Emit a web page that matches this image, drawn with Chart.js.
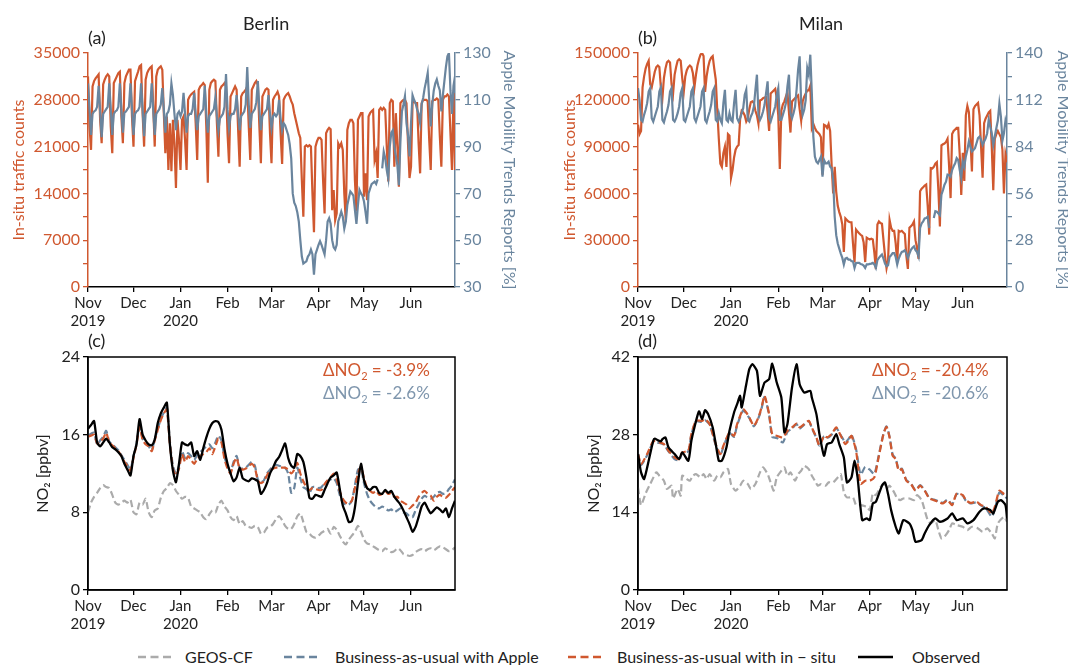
<!DOCTYPE html>
<html><head><meta charset="utf-8">
<script src="https://cdn.jsdelivr.net/npm/chart.js@4.4.0/dist/chart.umd.min.js"></script>
<style>
html,body{margin:0;padding:0;background:#fff;}
body{width:1068px;height:665px;position:relative;overflow:hidden;font-family:Lato,'DejaVu Sans',sans-serif;color:#222;}
canvas{position:absolute;}
.t{position:absolute;white-space:nowrap;line-height:1;}
.lg{position:absolute;top:648px;font-size:16px;line-height:18px;white-space:nowrap;color:#222;}
</style></head><body>
<canvas id="ca" width="534" height="335" style="left:0;top:0"></canvas>
<canvas id="cb" width="540" height="335" style="left:534px;top:0"></canvas>
<canvas id="cc" width="534" height="300" style="left:0;top:335px"></canvas>
<canvas id="cd" width="534" height="300" style="left:534px;top:335px"></canvas>

<div class="t" style="left:243px;top:14px;font-size:18px">Berlin</div>
<div class="t" style="left:799px;top:14px;font-size:18px">Milan</div>
<div class="t" style="left:88px;top:28px;font-size:18px">(a)</div>
<div class="t" style="left:638px;top:28px;font-size:18px">(b)</div>
<div class="t" style="left:88px;top:331px;font-size:18px">(c)</div>
<div class="t" style="left:638px;top:331px;font-size:18px">(d)</div>
<div class="t" style="left:323px;top:361px;font-size:17px;color:#d0582f">ΔNO<sub style="font-size:11px">2</sub> = -3.9%</div>
<div class="t" style="left:323px;top:384px;font-size:17px;color:#7f96ad">ΔNO<sub style="font-size:11px">2</sub> = -2.6%</div>
<div class="t" style="left:872px;top:361px;font-size:17px;color:#d0582f">ΔNO<sub style="font-size:11px">2</sub> = -20.4%</div>
<div class="t" style="left:872px;top:384px;font-size:17px;color:#7f96ad">ΔNO<sub style="font-size:11px">2</sub> = -20.6%</div>

<svg style="position:absolute;left:0;top:640px" width="1068" height="25">
<line x1="138" y1="17" x2="171" y2="17" stroke="#ababab" stroke-width="2.5" stroke-dasharray="8,4.5"/>
<line x1="284" y1="17" x2="318" y2="17" stroke="#6a859e" stroke-width="2.5" stroke-dasharray="8,4.5"/>
<line x1="568" y1="17" x2="602" y2="17" stroke="#d0582f" stroke-width="2.5" stroke-dasharray="8,4.5"/>
<line x1="858" y1="17" x2="893" y2="17" stroke="#000" stroke-width="2.5"/>
</svg>
<div class="lg" style="left:185px">GEOS-CF</div>
<div class="lg" style="left:335px">Business-as-usual with Apple</div>
<div class="lg" style="left:617px">Business-as-usual with in − situ</div>
<div class="lg" style="left:912px">Observed</div>

<script>
// ---------- axis ticks ----------
const monthTickDays = [0,30,61,92,121,152,182,213];
const monthTickLabels = [["Nov","2019"],"Dec",["Jan","2020"],"Feb","Mar","Apr","May","Jun"];

// ---------- (a) Berlin daily traffic counts, Nov 1 2019 – Jun 30 2020 ----------
const berlinTraffic = [
31500,24000,20500,30000,30800,31200,31500,
31800,25000,21500,30300,31000,31500,31800,
31500,24000,20000,30500,31000,31500,32000,
32200,25500,21500,30500,31500,32000,32500,
32500,25500,21000,30800,31500,32200,33000,
33200,26000,21000,31000,32000,32500,32800,
33000,27000,21000,31500,32500,32800,33000,
32500,26000,20000,25500,17500,24500,17300,
25000,21500,14800,25000,22000,17500,25000,
25500,22000,17500,28000,28500,28800,29000,
29200,24500,19000,29500,30000,30200,30500,
30200,24000,15600,29500,30500,30800,31000,
30800,24500,19500,29500,30000,30200,30500,
30000,23000,18500,28500,29000,29500,30000,
29500,23500,18000,28500,29000,29200,29500,
30000,24000,19000,29500,30000,30500,30800,
30200,24000,18500,28500,29000,29500,29700,
29500,23000,18500,28000,28500,28800,29200,
28500,23000,18400,28000,28500,28800,29000,
28500,27800,27300,26000,25000,24000,23000,
22300,16000,10500,21000,21200,21000,21200,
21000,14000,8200,21000,21800,22300,22300,
22000,16000,11000,23000,23500,23800,23600,
11500,14500,10000,11000,21500,21000,21500,
20500,14000,9800,23500,24500,25000,25000,
24500,16000,11300,25000,25500,26000,26000,
13500,17000,13000,25500,26000,26300,26500,
19000,20000,16300,26500,26800,26500,26800,
26500,21000,15800,27500,28000,27800,18000,
26000,21000,15000,27500,27800,28000,28000,
27500,21500,16300,18000,27500,27800,27500,
27500,21500,17000,27500,28000,28000,28000,
27800,22000,17500,27800,28000,28000,28200,
28000,22500,18000,28000,28500,28500,28800,
28500,23000,17500,29000,17500];

// Berlin Apple Mobility Trends (%), daily, gaps = null
const berlinApple = [
117,106,95,104,105,105.5,107,
116,105,94,104,105,106,107,
117,106,95,104,105,105.5,107,
117,106,96,104.5,105,106,107,
117,106,95,104,105,105.5,107,
117,106,94.5,104,105,106,107,
117,106,95,104,105,106,108,
115,106,96,104,105,108,117,
112,104,97,104,105,103,105,
113,104,96,103,104,104,106,
113,104,97,103,104,105,106,
116,104,96,103,104,105,106,
111,103,97,102,103,104,107,
121,106,98,103,104,104,106,
112,104,97,103,104,105,108,
124,108,98,104,105,106,109,
118,106,97,103,104,105,106,
112,104,98,103,104,103,104,
110,102,97,100,99,97,95,
91,85,70,66,64.6,62,58,
50,43,40,40.5,41,43,44,
46,44,35.3,44,46,48,49.6,
48,46,44,50,58,59.4,57,
50,47,46,48,58,60,62.2,
60,55,58,65,68,70.8,70,
69,63,57,65,71.5,70,69,
66.5,62,57,70,72,74,74.5,
75,74,76,null,null,80.7,87.8,
85,80,76.4,90,96,97,90,
86,82,73.5,92,105,108,111.5,
100,95,85.8,100,112,110,108.5,
106,104,100,108,110.8,115,118,
121.5,110,98.6,108,114,117,118.7,
116,114,105,112,118,124,128.6,
130,114,104,116,120];

// ---------- (b) Milan ----------
const milanTraffic = [
104000,98000,100000,128000,135000,140000,143000,
145000,130000,128000,133000,138000,141000,142000,
141000,128000,121000,134000,140000,144000,145000,
144000,130000,124000,136000,141000,145000,146000,
145000,134000,125000,135000,139000,141000,142000,
141000,137000,128000,136000,142000,146000,149000,
150000,148000,125000,135000,141000,145000,147000,
148000,140000,133000,113000,95000,79000,77000,
86000,90000,77000,98000,97000,70000,75000,
83000,88000,90000,91000,108000,113000,112000,
110000,106000,108000,114000,118500,119000,118000,
113000,110000,104600,119600,120000,121000,121500,
121700,112000,100000,124000,125000,126000,127000,
121000,110000,75600,113000,117000,119000,122000,
125000,112000,99000,119000,120000,121000,122000,
122800,114000,106700,119000,122000,124000,126000,
126000,129000,102000,104600,102000,100000,99000,
98000,96000,72000,104000,103500,102000,104500,
100000,78000,60000,77000,61000,52000,48000,
45000,40000,22500,44000,43000,42000,41500,
41500,28000,15800,36800,35500,34500,33500,
32700,28500,16000,31600,31000,30500,31000,
30500,22000,11500,40000,42000,41000,40500,
30000,20000,12000,17000,43000,38000,36000,
36000,28000,16000,36000,35500,36000,35000,
34000,20000,11600,38000,39000,40000,42000,
30000,25000,18000,61400,63000,64000,65000,
65700,52000,33600,76200,76000,77000,79000,
80000,62000,38800,90800,91500,92000,93000,
95000,78000,57000,98000,100000,101000,102000,
102000,85000,59000,86000,68000,110000,116000,
112000,95000,74000,114000,116000,117000,118000,
110000,90000,70000,105000,108000,110000,112000,
113000,90000,62000,95000,98000,100000,98000,
96000,88000,60000,85000,80000];

const milanApple = [
119,112,100,99,103,106,110,
117,119,101,99,102,105,108,
117,119.5,100,98.5,102,105,109,
117,119,100,99,101,104,108,
116,119,100,99,102,105,108,
117,119,101,99,102,105,108,
117,119,100,98.5,102,105,109,
117,119,100,99,104,100,98,
110,118,100,99,104,100,99,
110,118,101,99,101,104,107,
115,118,100,99,102,104,108,
118,127,103,100,102,105,109,
116,123,101,99,102,105,108,
115,119,100,100,103,106,110,
120,127,104,101,104,108,118,
130,138,110,103,106,112,131,
127,139,116,90,78,75,74,
76,78,66,76,74,74,75,
72,71,64,42,31,26,23,
20,17.4,13.4,17,17.4,16.4,16.4,
15.4,15.4,11.4,14.4,14.5,14.4,13.8,
13.5,12.8,11.4,13.5,13.5,13.8,14,
14.4,13.5,11.4,16,17.4,18.5,19.4,
17,14,12.4,13,18,19,20.3,
20.3,18,13.4,17,19.3,21,21.3,
22,20,17.4,20,22.3,23.5,24.3,
22,21,18.3,35.3,38,39.3,41,
41.3,42,35.3,null,null,41.3,45.3,
45,44,43,55.2,58,61.2,63,
67.2,67,66,70,72.2,74,77.1,
76,70,65.2,75,72,78.1,82,
87.1,84,81.1,82,83.1,86,89.1,
90,88,85,87,89,92,100,
96,92,85,90,95,99.6,109.6,
102,87.6,92,99.6,96];

// ---------- (c) Berlin NO2 [ppbv], every second day from Nov 1 ----------
const berlinObserved = [16.6,17.0,17.4,15.2,14.8,15.2,15.6,15.2,14.7,14.5,
14.2,13.8,13.0,12.4,11.8,13.8,15.0,17.6,16.0,15.4,
15.0,14.9,15.5,17.2,18.2,18.8,19.3,15.0,12.3,11.1,
13.0,15.2,15.0,14.9,15.2,13.8,14.3,13.4,14.6,15.7,
16.6,17.2,17.4,17.3,16.5,14.5,13.0,12.0,11.2,11.6,
12.6,11.5,11.3,11.2,11.5,11.4,11.2,9.9,10.3,11.0,
12.0,12.6,13.3,13.7,14.4,15.1,13.6,12.8,12.6,14.0,
13.8,13.2,11.6,9.5,9.4,9.8,9.7,9.6,10.3,11.0,
11.6,11.8,12.1,10.4,8.7,7.9,7.0,7.1,8.5,11.0,
13.0,11.3,10.5,10.3,10.6,10.6,10.0,9.9,10.3,10.0,
10.2,9.6,9.2,8.8,8.2,7.5,6.8,6.0,6.5,7.5,
8.6,9.0,8.4,7.9,8.2,8.5,8.3,8.0,8.4,7.5,
8.4,9.2];
const berlinBauInsitu = [15.8,15.9,16.0,15.1,15.3,15.6,16.2,15.2,14.9,14.6,
14.3,13.8,13.2,12.8,12.3,13.6,15.0,16.8,15.5,15.0,
14.8,14.3,15.4,16.5,17.5,18.2,18.6,15.0,12.5,11.8,
12.5,14.0,13.2,13.8,13.4,13.0,13.5,13.8,14.0,14.2,
14.6,14.0,14.8,15.6,15.2,13.5,12.5,12.0,13.0,13.6,
12.5,12.4,12.5,12.8,13.0,12.6,11.3,11.0,11.2,11.8,
12.3,12.5,12.6,12.6,12.6,12.6,12.4,12.0,12.4,13.1,
12.0,11.2,10.6,10.3,10.5,10.4,10.3,10.3,10.9,11.3,
11.6,12.0,11.4,10.2,9.4,9.0,8.9,9.2,10.5,12.0,
12.7,11.5,10.5,10.2,10.0,10.2,9.8,9.9,10.2,9.9,
10.0,9.6,9.6,9.2,9.0,8.8,8.4,8.7,9.0,9.6,
10.0,10.2,9.9,9.7,9.2,9.6,9.8,9.6,9.5,9.8,
10.2,10.6];
const berlinBauApple = [15.9,16.1,16.2,15.0,15.4,15.8,16.4,15.3,15.0,14.7,
14.4,13.9,13.4,12.9,12.4,13.8,15.1,17.0,15.6,15.1,
14.8,14.4,15.5,16.6,17.6,18.3,18.8,15.3,12.8,12.0,
12.8,14.3,13.6,14.1,13.8,13.4,13.9,14.2,14.5,14.8,
15.0,14.6,15.2,15.9,15.4,13.7,12.8,12.2,13.2,13.8,
12.6,12.5,12.6,12.9,13.2,12.8,11.4,11.1,11.3,12.0,
12.4,12.7,12.9,12.8,12.7,12.6,12.0,10.0,10.5,12.6,
11.5,10.6,10.4,10.0,10.6,10.6,10.5,10.6,11.0,11.2,
11.4,11.5,11.0,9.8,9.0,8.8,8.8,9.2,10.8,12.4,
12.5,11.0,9.9,9.2,8.8,8.5,8.4,8.6,8.4,8.2,
8.3,8.0,8.2,8.4,8.0,7.9,7.6,7.5,8.2,8.8,
9.4,9.7,9.5,9.4,9.6,10.0,10.1,9.9,10.0,10.4,
10.8,11.4];
const berlinGeos = [8.0,9.0,9.6,10.0,10.5,10.8,10.6,10.5,9.8,9.0,
8.8,9.0,9.2,9.0,9.3,8.0,7.8,9.0,8.8,9.4,
8.0,7.5,8.2,8.4,9.5,10.2,10.5,11.0,10.8,10.2,
9.8,9.4,9.6,9.5,8.6,8.4,8.2,8.0,7.5,7.3,
7.8,8.2,8.0,8.8,9.2,8.6,8.2,7.5,7.2,7.6,
6.8,7.1,6.6,6.5,6.4,6.6,6.5,5.8,5.9,6.4,
6.5,6.8,7.3,7.6,7.2,6.6,6.3,6.3,6.8,7.6,
7.9,7.0,6.0,5.8,5.5,5.4,5.6,5.9,6.1,6.3,
5.8,6.5,6.2,5.6,5.0,4.7,5.2,5.6,6.0,6.6,
6.0,5.2,4.8,4.7,4.5,4.3,4.1,4.0,4.3,4.1,
3.9,4.0,4.3,4.1,3.7,3.6,3.5,3.6,3.9,4.1,
4.2,4.0,4.2,4.3,4.1,4.3,4.5,4.4,4.2,4.0,
4.1,4.4];

// ---------- (d) Milan NO2 [ppbv], read at the days listed ----------
const milanObservedDay = [0,2,4,7,10,11,13,15,16,18,20,24,27,29,33,35,37,40,42,44,46,49,51,53,55,58,60,63,65,67,68,71,73,75,78,80,83,86,88,91,94,96,98,101,104,106,109,113,114,117,119,122,124,127,130,132,135,137,140,142,144,147,150,152,154,156,160,162,164,166,169,171,174,178,180,182,186,188,191,195,198,203,206,209,213,216,220,224,227,231,233,236,238,241,242];
const milanObservedNO2 = [24.5,21.2,20.0,23.3,26.9,27.3,27.0,26.8,27.2,27.5,25.7,24.5,23.6,24.8,23.3,26.9,29.3,32.2,30.8,32.4,31.7,29.3,26.3,23.3,23.3,25.7,28.7,32.0,33.5,35.0,32.9,37.1,39.8,40.7,39.5,35.0,37.4,38.0,40.8,37.4,34.7,28.4,29.9,36.5,40.7,37.1,35.6,35.9,34.7,31.7,28.1,24.2,26.3,26.6,28.1,26.3,23.9,19.4,20.3,23.3,20.3,12.6,12.9,12.6,15.6,15.9,18.8,19.4,17.3,14.4,11.4,10.2,12.6,12.0,10.8,8.7,9.0,10.2,11.7,12.9,12.3,12.9,13.8,12.6,12.9,12.0,12.6,14.1,14.7,14.4,13.8,15.9,16.2,15.3,12.9];

const milanBauInsituDay = [0,2,6,10,14,17,20,24,27,29,33,35,38,42,44,47,51,54,56,60,63,65,69,71,73,76,79,81,83,86,88,91,95,98,101,104,106,109,112,114,117,119,122,124,127,130,133,136,138,140,143,146,149,152,155,158,161,163,165,167,169,171,173,176,179,182,185,188,191,194,197,200,203,206,209,213,215,218,222,225,228,232,234,237,240,242];
const milanBauInsituNO2 = [24.5,22.7,24.5,26.8,26.6,26.3,25.1,23.9,23.6,24.8,25.1,28.1,30.5,30.5,30.8,29.9,26.3,24.5,26.0,28.4,27.8,29.9,32.6,32.0,31.1,29.6,31.1,32.9,35.0,31.7,28.1,27.8,27.5,28.7,29.3,30.0,29.3,29.9,30.5,29.3,27.5,26.0,27.8,27.5,28.1,29.3,27.8,26.3,26.9,27.8,25.1,19.1,19.7,19.7,20.3,24.2,28.1,29.4,27.5,24.2,23.6,21.5,21.8,19.7,19.1,17.9,18.8,17.9,16.5,16.2,15.9,15.6,16.2,15.3,17.4,17.1,16.2,15.7,15.9,15.3,15.0,13.8,15.0,17.9,17.3,17.1];

const milanBauAppleDay = [0,2,6,10,14,17,20,24,27,29,33,35,38,42,44,47,51,54,56,60,63,65,69,71,73,76,79,81,83,86,88,91,95,98,101,104,106,109,112,114,117,119,122,124,127,130,133,136,138,140,143,146,149,152,155,158,161,163,165,167,169,171,173,176,179,182,185,188,191,194,197,200,203,206,209,213,215,218,222,225,228,232,234,237,240,242];
const milanBauAppleNO2 = [24.6,22.5,24.3,26.6,26.5,26.2,25.0,23.6,23.4,24.6,25.0,28.0,30.4,30.3,30.6,29.8,26.1,24.3,25.8,28.3,27.6,29.7,32.4,31.8,31.0,29.5,31.0,32.7,34.8,31.5,27.6,27.4,26.6,28.5,29.1,29.9,29.1,29.8,30.4,29.2,27.4,26.0,27.7,27.4,28.0,29.2,27.9,26.6,27.2,28.0,25.4,20.8,22.2,21.7,20.9,24.4,28.2,29.5,27.6,24.4,23.7,21.7,21.9,19.8,19.2,18.0,18.9,18.0,16.6,16.3,16.0,15.7,16.3,15.4,17.3,17.0,16.1,15.6,15.8,15.2,14.8,13.2,14.6,17.6,17.0,16.5];

const milanGeosDay = [0,2,5,8,12,14,17,19,22,23,26,28,29,32,34,36,38,41,43,45,47,50,52,54,56,59,61,64,67,69,72,74,77,80,82,85,87,89,91,94,96,98,100,103,105,107,109,112,114,116,118,120,123,125,128,131,133,135,137,141,143,146,150,152,154,156,159,161,163,165,168,170,172,174,178,181,183,186,188,190,192,195,197,199,201,204,206,209,213,216,219,223,226,229,232,234,236,240,242];
const milanGeosNO2 = [18.5,15.3,17.4,19.1,21.2,20.6,19.7,18.2,18.8,16.5,18.2,17.0,20.6,20.0,19.7,20.6,20.9,20.3,20.9,20.0,20.9,19.7,20.6,20.3,21.2,21.8,19.1,17.9,18.8,19.7,19.1,18.2,19.1,21.2,22.1,20.9,19.4,17.9,20.3,21.5,22.1,20.6,21.2,19.7,20.9,21.5,22.4,21.8,20.6,19.7,18.8,19.1,18.8,19.4,19.4,20.3,20.9,17.6,16.7,16.7,15.3,15.3,15.0,14.4,17.4,17.1,18.5,19.1,18.2,18.8,17.6,16.5,16.2,16.5,16.5,16.2,17.1,16.2,14.4,12.6,12.0,12.6,10.8,9.3,9.6,10.8,12.0,11.7,11.4,10.8,11.4,11.1,10.5,11.1,10.2,9.3,12.0,13.2,12.3];

// ---------- styling ----------
const ORANGE = '#d0582f', BLUE = '#6a859e', GRAY = '#ababab', BLACK = '#000000';
Chart.defaults.font.family = "Lato, 'DejaVu Sans', sans-serif";
Chart.defaults.font.size = 16;
Chart.defaults.color = '#222';
Chart.defaults.animation = false;
Chart.defaults.plugins.legend.display = false;
Chart.defaults.plugins.tooltip.enabled = false;

const daily = vals => vals.map((v, i) => ({x: i, y: v}));
const everyTwo = vals => vals.map((v, i) => ({x: 2 * i, y: v}));
const paired = (days, vals) => days.map((d, i) => ({x: d, y: vals[i]}));

function xAxis(h) {
  return {
    type: 'linear', position: 'bottom', min: 0, max: 242,
    afterBuildTicks: s => { s.ticks = monthTickDays.map(v => ({value: v})); },
    ticks: {autoSkip: false, maxRotation: 0, padding: 2, color: '#222', font: {size: 15},
      callback: (v, i) => monthTickLabels[i]},
    grid: {drawOnChartArea: false, drawTicks: true, tickLength: 5, color: '#000', lineWidth: 1.3},
    border: {color: '#000', width: 1.5},
    afterFit: s => { s.height = h; }
  };
}
function yAxis(opt) {
  return {
    type: 'linear', position: opt.pos, min: opt.min, max: opt.max,
    ticks: {stepSize: opt.step, color: opt.color, padding: 3, font: {size: 16},
      callback: v => opt.label(v) ? String(v) : ''},
    grid: {drawOnChartArea: false, drawTicks: true, tickLength: 5, color: opt.color, lineWidth: 1.3},
    border: {color: opt.border || opt.color, width: 1.5},
    title: {display: true, text: opt.title, color: opt.color, font: {size: 16}, padding: {top: opt.tpad, bottom: 0}},
    afterFit: s => { s.width = opt.w; }
  };
}
const frame = {
  id: 'frame',
  afterDatasetsDraw(c) {
    const a = c.chartArea, ctx = c.ctx;
    ctx.save(); ctx.strokeStyle = '#000'; ctx.lineWidth = 1.5;
    ctx.strokeRect(a.left, a.top, a.right - a.left, a.bottom - a.top);
    ctx.restore();
  }
};

function topChart(id, traffic, apple, left, right, padRight) {
  new Chart(document.getElementById(id), {
    type: 'line',
    data: {datasets: [
      {data: daily(apple), yAxisID: 'y1', borderColor: BLUE, borderWidth: 2.2, pointRadius: 0, tension: 0, spanGaps: false, order: 0},
      {data: daily(traffic), yAxisID: 'y', borderColor: ORANGE, borderWidth: 2.2, pointRadius: 0, tension: 0, order: 1}
    ]},
    options: {
      responsive: false, maintainAspectRatio: false,
      layout: {padding: {top: 53, left: 0, right: padRight, bottom: 0}},
      scales: {x: xAxis(48), y: yAxis(left), y1: yAxis(right)}
    }
  });
}

topChart('ca', berlinTraffic, berlinApple,
  {pos: 'left', min: 0, max: 35000, step: 3500, label: v => v % 7000 === 0, color: ORANGE, title: 'In-situ traffic counts', tpad: 9, w: 88},
  {pos: 'right', min: 30, max: 130, step: 10, label: v => (v - 30) % 20 === 0, color: BLUE, title: 'Apple Mobility Trends Reports [%]', tpad: 15, w: 79},
  0);
topChart('cb', milanTraffic, milanApple,
  {pos: 'left', min: 0, max: 150000, step: 15000, label: v => v % 30000 === 0, color: ORANGE, title: 'In-situ traffic counts', tpad: 26, w: 104},
  {pos: 'right', min: 0, max: 140, step: 14, label: v => v % 28 === 0, color: BLUE, title: 'Apple Mobility Trends Reports [%]', tpad: 1, w: 67},
  0);

function no2Chart(id, sets, ymax, step, yw, tpad, padRight) {
  const dash = [7, 3.5];
  new Chart(document.getElementById(id), {
    type: 'line',
    data: {datasets: [
      {data: sets.obs, borderColor: BLACK, borderWidth: 2.3, pointRadius: 0, tension: 0.2, order: 0},
      {data: sets.insitu, borderColor: ORANGE, borderWidth: 2.2, borderDash: dash, pointRadius: 0, tension: 0.2, order: 1},
      {data: sets.apple, borderColor: BLUE, borderWidth: 2.2, borderDash: dash, pointRadius: 0, tension: 0.2, order: 2},
      {data: sets.geos, borderColor: GRAY, borderWidth: 2.2, borderDash: dash, pointRadius: 0, tension: 0.2, order: 3}
    ]},
    options: {
      responsive: false, maintainAspectRatio: false,
      layout: {padding: {top: 22, left: 0, right: padRight, bottom: 0}},
      scales: {
        x: xAxis(45),
        y: {type: 'linear', position: 'left', min: 0, max: ymax,
          ticks: {stepSize: step, color: '#222', padding: 3, font: {size: 16}},
          grid: {drawOnChartArea: false, drawTicks: true, tickLength: 5, color: '#000', lineWidth: 1.3},
          border: {color: '#000', width: 1.5},
          title: {display: true, text: 'NO₂ [ppbv]', color: '#222', font: {size: 16}, padding: {top: tpad, bottom: 0}},
          afterFit: s => { s.width = yw; }}
      }
    },
    plugins: [frame]
  });
}

no2Chart('cc', {
  obs: everyTwo(berlinObserved), insitu: everyTwo(berlinBauInsitu),
  apple: everyTwo(berlinBauApple), geos: everyTwo(berlinGeos)
}, 24, 8, 88, 33, 79);
no2Chart('cd', {
  obs: paired(milanObservedDay, milanObservedNO2), insitu: paired(milanBauInsituDay, milanBauInsituNO2),
  apple: paired(milanBauAppleDay, milanBauAppleNO2), geos: paired(milanGeosDay, milanGeosNO2)
}, 42, 14, 104, 50, 61);
</script>
</body></html>
